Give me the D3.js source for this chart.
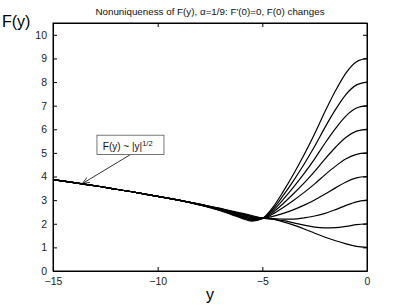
<!DOCTYPE html>
<html>
<head>
<meta charset="utf-8">
<script src="https://cdn.jsdelivr.net/npm/d3@7"></script>
<style>
  body { margin: 0; background: #fff; }
  svg { display: block; font-family: "Liberation Sans", Arial, sans-serif; }
</style>
</head>
<body>
<div class="canvas"></div>
<script>
const yGrid = [-15, -14, -13, -12, -11, -10, -9, -8, -7.5, -7, -6.5, -6, -5.5, -5,
  -4.5, -4, -3.5, -3, -2.5, -2, -1.5, -1, -0.5, 0];

// far field, shared by all curves (F ~ |y|^1/2)
const farField = [3.87, 3.74, 3.61, 3.46, 3.32, 3.16, 3.00];

// one series per F(0) value
const F1 = farField.concat([2.83, 2.74, 2.65, 2.55, 2.45, 2.35, 2.24, 2.20, 2.08, 1.94, 1.78, 1.60, 1.43, 1.28, 1.15, 1.04, 1.00]);
const F2 = farField.concat([2.83, 2.73, 2.64, 2.53, 2.42, 2.32, 2.24, 2.20, 2.13, 2.04, 1.94, 1.86, 1.83, 1.84, 1.89, 1.96, 2.00]);
const F3 = farField.concat([2.82, 2.73, 2.63, 2.51, 2.40, 2.29, 2.24, 2.22, 2.20, 2.20, 2.25, 2.33, 2.44, 2.60, 2.78, 2.93, 3.00]);
const F4 = farField.concat([2.82, 2.72, 2.61, 2.49, 2.37, 2.26, 2.23, 2.31, 2.44, 2.60, 2.79, 3.01, 3.26, 3.52, 3.77, 3.94, 4.00]);
const F5 = farField.concat([2.81, 2.71, 2.60, 2.47, 2.34, 2.23, 2.23, 2.41, 2.69, 3.00, 3.33, 3.69, 4.08, 4.44, 4.75, 4.94, 5.00]);
const F6 = farField.concat([2.81, 2.70, 2.59, 2.46, 2.32, 2.20, 2.23, 2.48, 2.86, 3.28, 3.73, 4.22, 4.75, 5.24, 5.66, 5.92, 6.00]);
const F7 = farField.concat([2.81, 2.70, 2.58, 2.44, 2.29, 2.17, 2.23, 2.55, 3.03, 3.56, 4.13, 4.75, 5.42, 6.04, 6.57, 6.90, 7.00]);
const F8 = farField.concat([2.80, 2.69, 2.56, 2.42, 2.27, 2.14, 2.22, 2.62, 3.20, 3.84, 4.53, 5.28, 6.09, 6.84, 7.48, 7.88, 8.00]);
const F9 = farField.concat([2.80, 2.68, 2.55, 2.40, 2.24, 2.11, 2.22, 2.69, 3.37, 4.12, 4.93, 5.81, 6.76, 7.64, 8.39, 8.86, 9.00]);
const series = [F1, F2, F3, F4, F5, F6, F7, F8, F9];

const xTicks = [-15, -10, -5, 0];
const yTicks = [0, 1, 2, 3, 4, 5, 6, 7, 8, 9, 10];

const dims = { width: 406, height: 305 };
const margin = { top: 23, right: 39, bottom: 34, left: 53 };
const innerW = dims.width - margin.left - margin.right;
const innerH = dims.height - margin.top - margin.bottom;

const svg = d3.select(".canvas")
  .append("svg")
  .attr("width", dims.width)
  .attr("height", dims.height);

const graph = svg.append("g")
  .attr("transform", `translate(${margin.left}, ${margin.top})`);

const x = d3.scaleLinear().domain([-15, 0]).range([0, innerW]);
const y = d3.scaleLinear().domain([0, 10.5]).range([innerH, 0]);

const fmt = (d) => (d < 0 ? "\u2212" + Math.abs(d) : String(d));

// axes, matlab style: ticks inside, box all round
const tickLen = 4;
graph.append("g")
  .attr("transform", `translate(0, ${innerH})`)
  .call(d3.axisBottom(x).tickValues(xTicks).tickSizeInner(-tickLen).tickSizeOuter(0).tickPadding(7).tickFormat(fmt));
graph.append("g")
  .call(d3.axisTop(x).tickValues(xTicks).tickSizeInner(-tickLen).tickSizeOuter(0).tickFormat(""));
graph.append("g")
  .call(d3.axisLeft(y).tickValues(yTicks).tickSizeInner(-tickLen).tickSizeOuter(0).tickPadding(6).tickFormat(fmt));
graph.append("g")
  .attr("transform", `translate(${innerW}, 0)`)
  .call(d3.axisRight(y).tickValues(yTicks).tickSizeInner(-tickLen).tickSizeOuter(0).tickFormat(""));

graph.selectAll(".domain").attr("stroke", "#000");
graph.selectAll(".tick line").attr("stroke", "#000");
graph.selectAll(".tick text")
  .attr("fill", "#222")
  .style("font-size", "10.5px");

// frame
graph.append("rect")
  .attr("width", innerW)
  .attr("height", innerH)
  .attr("fill", "none")
  .attr("stroke", "#000")
  .attr("stroke-width", 1);

// curves
const line = d3.line()
  .x((d, i) => x(yGrid[i]))
  .y((d) => y(d))
  .curve(d3.curveMonotoneX);

graph.selectAll("path.curve")
  .data(series)
  .enter()
  .append("path")
  .attr("class", "curve")
  .attr("d", line)
  .attr("fill", "none")
  .attr("stroke", "#000")
  .attr("stroke-width", 1.2);

// annotation with arrow
svg.append("defs").append("marker")
  .attr("id", "arrow")
  .attr("viewBox", "0 0 10 10")
  .attr("refX", 10)
  .attr("refY", 5)
  .attr("markerWidth", 9)
  .attr("markerHeight", 9)
  .attr("orient", "auto")
  .append("path")
  .attr("d", "M0,1 L10,5 L0,9")
  .attr("fill", "none")
  .attr("stroke", "#000")
  .attr("stroke-width", 1);

graph.append("line")
  .attr("x1", x(-11.3))
  .attr("y1", y(4.93))
  .attr("x2", x(-13.6))
  .attr("y2", y(3.70))
  .attr("stroke", "#000")
  .attr("stroke-width", 0.8)
  .attr("marker-end", "url(#arrow)");

graph.append("rect")
  .attr("x", x(-12.9))
  .attr("y", y(5.75))
  .attr("width", x(-9.7) - x(-12.9))
  .attr("height", y(4.93) - y(5.75))
  .attr("fill", "#fff")
  .attr("stroke", "#555")
  .attr("stroke-width", 0.8);

const note = graph.append("text")
  .attr("x", x(-12.62))
  .attr("y", y(5.12))
  .attr("fill", "#111")
  .style("font-size", "10px");
note.append("tspan").text("F(y) ~ |y|");
note.append("tspan").attr("dy", -4).style("font-size", "7.5px").text("1/2");

// title and labels
svg.append("text")
  .attr("x", margin.left + innerW / 2)
  .attr("y", 15)
  .attr("text-anchor", "middle")
  .attr("fill", "#111")
  .style("font-size", "9.8px")
  .text("Nonuniqueness of F(y), \u03b1=1/9: F\u2032(0)=0, F(0) changes");

svg.append("text")
  .attr("x", 2)
  .attr("y", 27)
  .attr("fill", "#000")
  .style("font-size", "16px")
  .text("F(y)");

svg.append("text")
  .attr("x", margin.left + innerW / 2)
  .attr("y", 300)
  .attr("text-anchor", "middle")
  .attr("fill", "#000")
  .style("font-size", "16px")
  .text("y");
</script>
</body>
</html>
